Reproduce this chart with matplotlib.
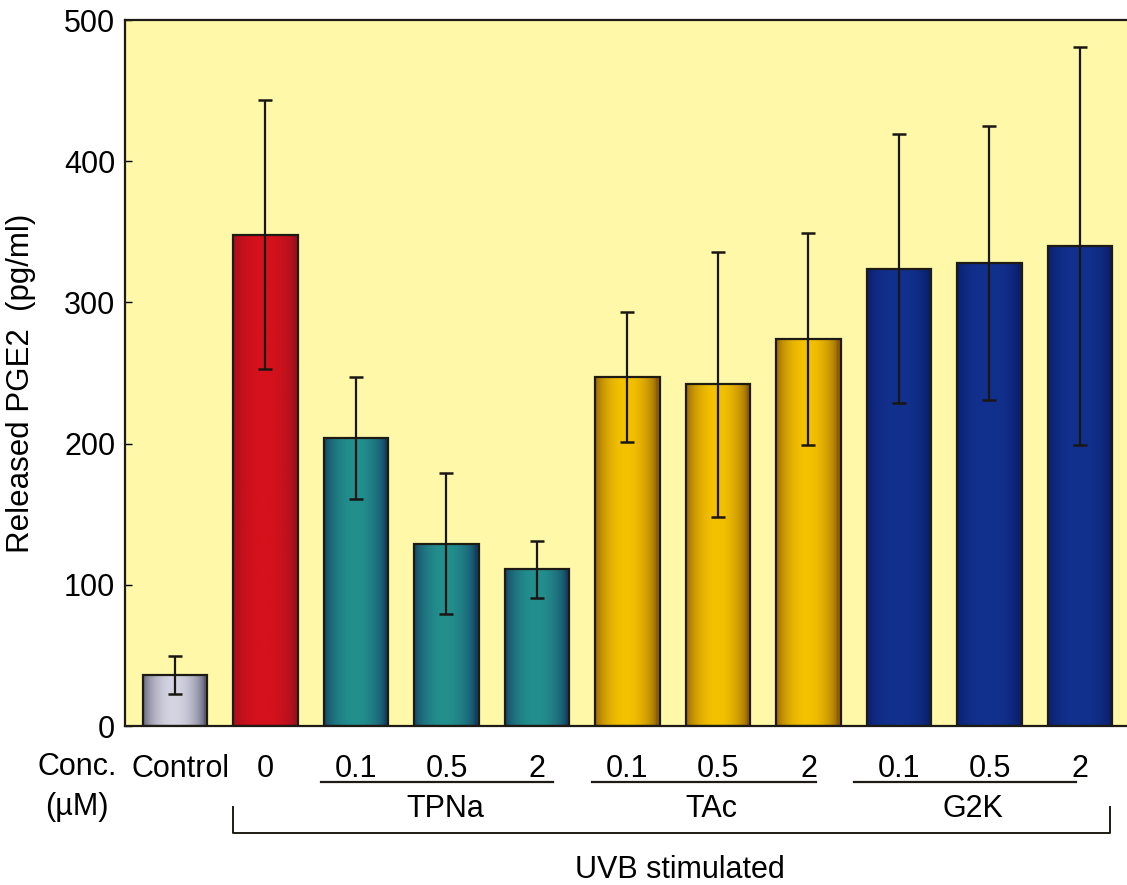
import numpy as np
import matplotlib
matplotlib.use("Agg")
import matplotlib.pyplot as plt
import matplotlib.transforms as mtransforms
from matplotlib.colors import to_rgb

plt.rcParams['font.family'] = ['Liberation Sans', 'DejaVu Sans']

# concentrations (uM) and PGE2 release, mean +/- SD
conc_labels = ['Control', '0', '0.1', '0.5', '2', '0.1', '0.5', '2', '0.1', '0.5', '2']
pge2_mean = [36, 348, 204, 129, 111, 247, 242, 274, 324, 328, 340]
pge2_sd = [13.5, 95, 43, 50, 20, 46, 94, 75, 95, 97, 141]
bar_group = ['ctrl', 'uvb', 'tpna', 'tpna', 'tpna', 'tac', 'tac', 'tac', 'g2k', 'g2k', 'g2k']

compounds = ['TPNa', 'TAc', 'G2K']
compound_span = [(1.61, 4.18), (4.61, 7.08), (7.50, 9.96)]
compound_label_x = [2.99, 5.93, 8.82]

# (edge colour, centre colour) for cylinder-like shading
shade = {
    'ctrl': ('#5c5c74', '#d4d4e2'),
    'uvb':  ('#a0101c', '#d6121c'),
    'tpna': ('#143f62', '#23908e'),
    'tac':  ('#8e5e08', '#f5c200'),
    'g2k':  ('#0a1f6c', '#12318f'),
}

fig = plt.figure(figsize=(11.27, 8.85), dpi=100)
ax = fig.add_axes([125 / 1127, 159 / 885, 1 - 125 / 1127, 706 / 885])
ax.set_facecolor('#fff8a8')

x = np.arange(len(pge2_mean))
bars = ax.bar(x, pge2_mean, width=0.71, color='none', edgecolor='#1e1a14',
              linewidth=1.6, zorder=3)

t = np.linspace(0, 1, 64)
profile = np.sin(np.pi * np.clip(t * 1.05, 0, 1)) ** 0.6
for b, g in zip(bars, bar_group):
    edge, mid = np.array(to_rgb(shade[g][0])), np.array(to_rgb(shade[g][1]))
    cols = edge[None, :] + (mid - edge)[None, :] * profile[:, None]
    x0 = b.get_x()
    im = ax.imshow(cols[None, :, :], extent=(x0, x0 + b.get_width(), 0, b.get_height()),
                   aspect='auto', interpolation='bilinear', zorder=2)
    im.set_clip_path(b)

ax.errorbar(x, pge2_mean, yerr=pge2_sd, fmt='none', ecolor='#1a1612',
            elinewidth=1.6, capsize=5, capthick=1.8, zorder=4)

ax.set_xlim(-0.552, 10.52)
ax.set_ylim(0, 500)
ax.set_yticks(range(0, 501, 100))
ax.tick_params(axis='y', direction='in', length=5, width=1, labelsize=22, pad=7)
ax.set_xticks(x, conc_labels)
ax.tick_params(axis='x', length=0, labelsize=22, pad=20)
# nudge "Control" a little to the right, away from "Conc."
ctrl_lbl = ax.get_xticklabels()[0]
ctrl_lbl.set_transform(ctrl_lbl.get_transform() +
                       mtransforms.ScaledTranslation(6 / 100, 0, fig.dpi_scale_trans))
ax.spines['right'].set_visible(False)
for s in ('left', 'top', 'bottom'):
    ax.spines[s].set_linewidth(1.6)
    ax.spines[s].set_color('#1e1a14')

ax.set_ylabel('Released PGE2  (pg/ml)', fontsize=22.5)
ax.yaxis.set_label_coords(-0.089, 0.486)

# compound underlines and names
tr = ax.get_xaxis_transform()
for name, (a, b), lx in zip(compounds, compound_span, compound_label_x):
    ax.plot([a, b], [-0.0795, -0.0795], color='#1e1a14', lw=1.6,
            transform=tr, clip_on=False)
    ax.text(lx, -0.117, name, transform=tr, ha='center', va='center', fontsize=22)

# bracket for the UVB-stimulated samples
ax.plot([0.641, 0.641, 10.33, 10.33], [-0.115, -0.152, -0.152, -0.115],
        color='#1e1a14', lw=1.4, transform=tr, clip_on=False)
ax.text(5.58, -0.204, 'UVB stimulated', transform=tr, ha='center', va='center',
        fontsize=22)

ax.text(-1.08, -0.058, 'Conc.', transform=tr, ha='center', va='center', fontsize=22)
ax.text(-1.08, -0.115, '(µM)', transform=tr, ha='center', va='center', fontsize=22)

fig.savefig('out.png', dpi=100)
